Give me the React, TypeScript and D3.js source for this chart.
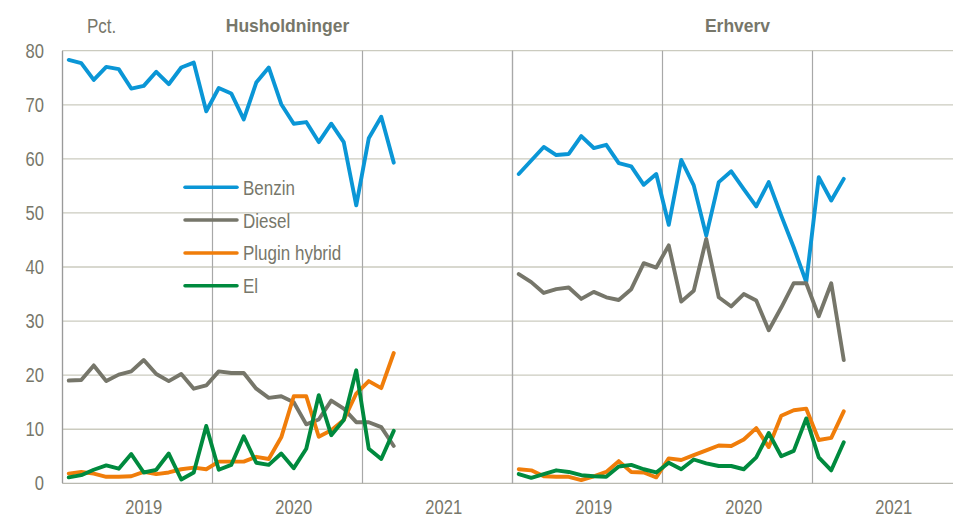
import React from "react";
import * as d3 from "d3";

// månedlige andele, jan 2019 - mar 2021
const months = d3.range(27);
const yTicks = [0, 10, 20, 30, 40, 50, 60, 70, 80];
const years = ["2019", "2020", "2021"];

const hhBenzin = [78.3, 77.7, 74.6, 77.0, 76.6, 73.0, 73.5, 76.1, 73.8, 76.9, 77.8, 68.8, 73.1, 72.1, 67.3, 74.1, 76.9, 70.1, 66.5, 66.8, 63.1, 66.5, 63.1, 51.4, 63.8, 67.8, 59.3];
const hhDiesel = [19.0, 19.1, 21.8, 18.9, 20.1, 20.7, 22.8, 20.2, 18.9, 20.2, 17.5, 18.1, 20.7, 20.4, 20.4, 17.5, 15.8, 16.1, 15.0, 10.9, 11.8, 15.3, 13.8, 11.3, 11.3, 10.4, 6.9];
const hhPlugin = [1.8, 2.1, 1.8, 1.2, 1.2, 1.3, 2.1, 1.7, 2.0, 2.6, 2.9, 2.6, 4.0, 4.0, 4.0, 4.9, 4.5, 8.5, 16.1, 16.1, 8.6, 9.8, 11.7, 16.6, 18.9, 17.6, 24.1];
const hhEl = [1.1, 1.5, 2.5, 3.3, 2.7, 5.4, 2.0, 2.5, 5.5, 0.7, 2.0, 10.6, 2.5, 3.4, 8.7, 3.8, 3.4, 5.5, 2.8, 6.4, 16.3, 8.9, 11.7, 20.9, 6.4, 4.5, 9.7];

const erBenzin = [57.2, 59.7, 62.2, 60.7, 60.9, 64.2, 62.0, 62.6, 59.2, 58.6, 55.2, 57.2, 47.8, 59.8, 55.1, 45.8, 55.7, 57.7, 54.4, 51.2, 55.7, 49.5, 43.6, 37.2, 56.6, 52.3, 56.3];
const erDiesel = [38.7, 37.2, 35.2, 35.9, 36.2, 34.1, 35.4, 34.4, 33.9, 35.9, 40.7, 39.9, 44.0, 33.6, 35.6, 45.2, 34.4, 32.7, 35.0, 33.8, 28.3, 32.5, 37.0, 37.0, 30.9, 37.0, 22.8];
const erPlugin = [2.6, 2.4, 1.3, 1.2, 1.2, 0.6, 1.3, 2.1, 4.1, 2.1, 2.0, 1.1, 4.6, 4.3, 5.2, 6.1, 7.0, 6.9, 8.1, 10.2, 6.7, 12.5, 13.5, 13.8, 8.0, 8.4, 13.3];
const erEl = [1.7, 1.0, 1.7, 2.4, 2.1, 1.5, 1.3, 1.2, 3.1, 3.4, 2.6, 2.0, 3.8, 2.6, 4.4, 3.7, 3.2, 3.2, 2.6, 4.8, 9.3, 5.0, 6.0, 12.0, 4.8, 2.4, 7.6];

const seriesNames = ["Benzin", "Diesel", "Plugin hybrid", "El"];
const colors = ["#0a96d6", "#76766a", "#f07d0a", "#008a3e"];

const panels = [
  { title: "Husholdninger", x0: 62.5, data: [hhBenzin, hhDiesel, hhPlugin, hhEl] },
  { title: "Erhverv", x0: 512.5, data: [erBenzin, erDiesel, erPlugin, erEl] },
];

const textColor = "#77776a";
const font = "'Liberation Sans', Arial, sans-serif";
const squeeze = 0.85;

export default function App() {
  const width = 953;
  const height = 518;
  const y = d3.scaleLinear().domain([0, 80]).range([483.3, 50.7]);
  const panelWidth = 450;

  return (
    <svg width={width} height={height} style={{ position: "absolute", left: 0, top: 0, background: "#fff" }} fontFamily={font}>
      {/* vandrette gitterlinjer */}
      {yTicks.map((t) => (
        <line key={"g" + t} x1={62.5} x2={width} y1={y(t)} y2={y(t)} stroke={t === 0 ? "#b9b9b0" : "#cbcbbf"} strokeWidth={1.3} />
      ))}
      {/* lodrette årslinjer */}
      {panels.map((p) =>
        d3.range(0, 4).map((k) => {
          const xv = p.x0 + k * 150;
          return <line key={p.title + k} x1={xv} x2={xv} y1={y(80)} y2={y(0)} stroke="#a8a8a8" strokeWidth={1.2} />;
        })
      )}
      <line x1={62.5} x2={62.5} y1={y(80)} y2={y(0)} stroke="#9a9a9a" strokeWidth={1.2} />

      {yTicks.map((t) => (
        <text key={"t" + t} transform={`translate(44,${y(t) + 7}) scale(${squeeze},1)`} textAnchor="end" fontSize={19.5} fill={textColor}>
          {t}
        </text>
      ))}
      <text transform={`translate(87,33) scale(${squeeze},1)`} fontSize={20} fill={textColor}>
        Pct.
      </text>

      {panels.map((p) => {
        const x = d3.scaleLinear().domain([0, 36]).range([p.x0, p.x0 + panelWidth]);
        const line = d3
          .line<number>()
          .defined((v) => v != null)
          .x((_, i) => x(months[i] + 0.5))
          .y((v) => y(v));
        return (
          <g key={p.title}>
            <text x={x(18)} y={32} textAnchor="middle" fontSize={17.5} fontWeight="bold" fill={textColor}>
              {p.title}
            </text>
            {years.map((yr, k) => (
              <text key={yr} transform={`translate(${x(k * 12 + 6.5)},514) scale(${squeeze},1)`} textAnchor="middle" fontSize={19.5} fill={textColor}>
                {yr}
              </text>
            ))}
            {p.data.map((s, j) => (
              <path key={j} d={line(s) || ""} fill="none" stroke={colors[j]} strokeWidth={3.9} strokeLinejoin="round" strokeLinecap="round" />
            ))}
          </g>
        );
      })}

      {/* forklaring */}
      {seriesNames.map((name, j) => {
        const ly = 187.3 + j * 32.8;
        return (
          <g key={name}>
            <line x1={185} x2={237} y1={ly} y2={ly} stroke={colors[j]} strokeWidth={3.5} strokeLinecap="round" />
            <text transform={`translate(243,${ly + 7.5}) scale(${squeeze},1)`} fontSize={20} fill={textColor}>
              {name}
            </text>
          </g>
        );
      })}
    </svg>
  );
}
